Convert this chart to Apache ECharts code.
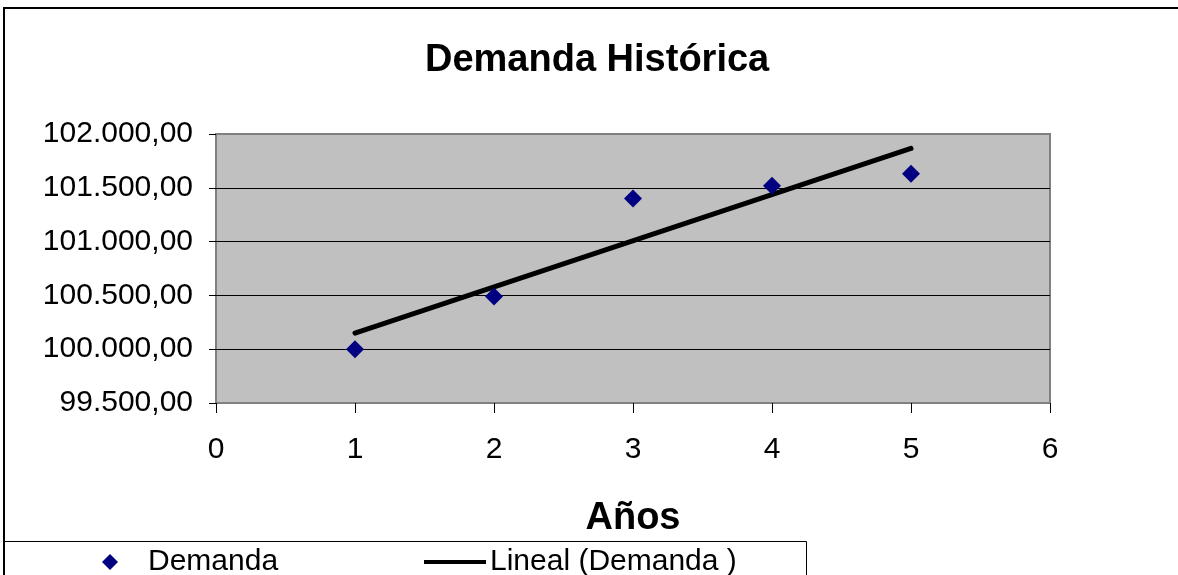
<!DOCTYPE html>
<html><head><meta charset="utf-8">
<script src="https://cdn.jsdelivr.net/npm/echarts@6/dist/echarts.min.js"></script>
<style>html,body{margin:0;padding:0;background:#fff}#c{width:1178px;height:575px}</style>
</head><body><div id="c"></div>
<script>
const years = [1, 2, 3, 4, 5];
const demanda = [100000, 100490, 101400, 101520, 101630];
const trendYears = [1, 5];
const trendValues = [100150, 101866];
const xTicks = [0, 1, 2, 3, 4, 5, 6];
const yTicks = [99500, 100000, 100500, 101000, 101500, 102000];

const FONT = '"Liberation Sans", Arial, sans-serif';
function fmt(v) {
  const s = Math.round(v).toString().replace(/\B(?=(\d{3})+(?!\d))/g, '.');
  return s + ',00';
}
const chart = echarts.init(document.getElementById('c'));
chart.setOption({
  animation: false,
  backgroundColor: '#fff',
  textStyle: { fontFamily: FONT, color: '#000' },
  title: {
    text: 'Demanda Histórica', left: 425, top: 42, padding: 0,
    textStyle: { fontFamily: FONT, fontSize: 38, fontWeight: 'bold', color: '#000' }
  },
  graphic: [
    { type: 'rect', shape: { x: 4, y: 8, width: 1200, height: 600 }, style: { fill: 'none', stroke: '#000', lineWidth: 2 }, z: 100 },
    { type: 'rect', shape: { x: 3.5, y: 541.5, width: 803, height: 60 }, style: { fill: 'none', stroke: '#000', lineWidth: 1 }, z: 100 }
  ],
  legend: [
    { data: ['Demanda'], left: 102, top: 547, padding: 0, icon: 'diamond', itemWidth: 16, itemHeight: 16,
      itemStyle: { opacity: 1 },
      textStyle: { fontFamily: FONT, fontSize: 30, color: '#000', padding: [0, 0, 0, 25] } },
    { data: ['Lineal (Demanda )'], left: 424, top: 547, padding: 0, icon: 'rect', itemWidth: 62, itemHeight: 4,
      textStyle: { fontFamily: FONT, fontSize: 30, color: '#000', padding: [0, 0, 0, -1] } }
  ],
  grid: { left: 216, top: 134, right: 128, bottom: 172, show: true, backgroundColor: '#c0c0c0', borderColor: '#808080', borderWidth: 2 },
  xAxis: {
    type: 'value', min: xTicks[0], max: xTicks[xTicks.length - 1], interval: 1,
    name: 'Años', nameLocation: 'middle', nameGap: 97,
    nameTextStyle: { fontFamily: FONT, fontSize: 38, fontWeight: 'bold', color: '#000' },
    axisLine: { show: true, lineStyle: { color: '#808080', width: 2 } },
    axisTick: { show: true, length: 10, lineStyle: { color: '#000', width: 1 } },
    axisLabel: { fontFamily: FONT, fontSize: 30, color: '#000', margin: 32 },
    splitLine: { show: false }
  },
  yAxis: {
    type: 'value', min: yTicks[0], max: yTicks[yTicks.length - 1], interval: 500,
    axisLine: { show: false },
    axisTick: { show: true, length: 7, lineStyle: { color: '#000', width: 1 } },
    axisLabel: { fontFamily: FONT, fontSize: 30, color: '#000', margin: 23, formatter: fmt },
    splitLine: { show: true, showMinLine: false, showMaxLine: false, lineStyle: { color: '#000', width: 1 } }
  },
  series: [
    { name: 'Lineal (Demanda )', type: 'line', data: trendYears.map((x, i) => [x, trendValues[i]]),
      symbol: 'none', lineStyle: { color: '#000', width: 5, cap: 'round' }, itemStyle: { color: '#000' }, z: 3 },
    { name: 'Demanda', type: 'scatter', data: years.map((x, i) => [x, demanda[i]]),
      symbol: 'diamond', symbolSize: 18, itemStyle: { color: '#000080', opacity: 1 }, z: 4 }
  ]
});
</script></body></html>
